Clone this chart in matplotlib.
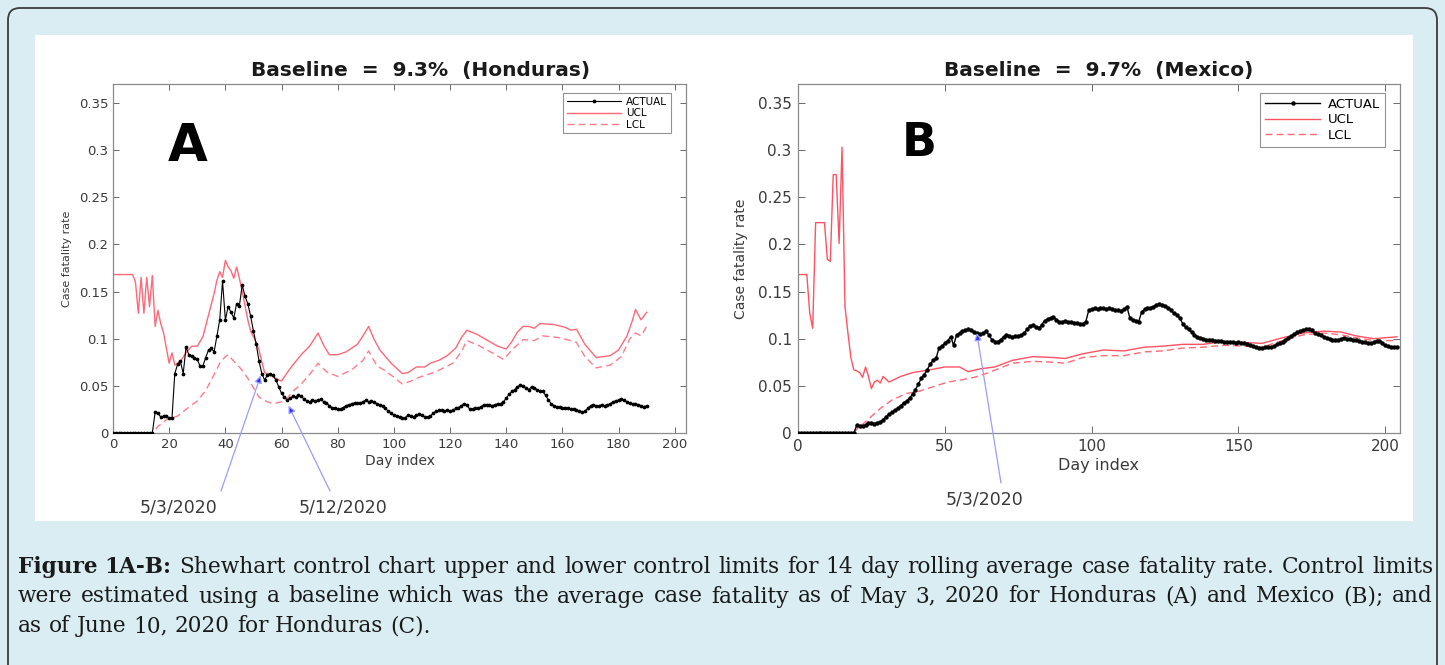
import matplotlib.pyplot as plt
from matplotlib.patches import FancyBboxPatch, Rectangle
from matplotlib.ticker import FuncFormatter, MultipleLocator

# ---- data ----
# Honduras (A): 14 day rolling case fatality rate, one value per day
actual_a = [
    0, 0, 0, 0, 0, 0, 0, 0, 0, 0, 0, 0, 0, 0, 0,
    0.022, 0.021, 0.017, 0.018, 0.018, 0.016, 0.016,
    0.063, 0.073, 0.076, 0.063, 0.091, 0.083, 0.082, 0.080, 0.078, 0.071,
    0.071, 0.080, 0.088, 0.090, 0.086, 0.103, 0.120, 0.161, 0.120, 0.134,
    0.128, 0.122, 0.137, 0.135, 0.157, 0.145, 0.137, 0.124, 0.108, 0.094,
    0.076, 0.063, 0.056, 0.062, 0.063, 0.061, 0.056, 0.049, 0.042, 0.038,
    0.035, 0.037, 0.039, 0.038, 0.040, 0.039, 0.036, 0.034, 0.033, 0.035,
    0.034, 0.035, 0.036, 0.033, 0.032, 0.029, 0.027, 0.026, 0.025, 0.025,
    0.027, 0.029, 0.030, 0.031, 0.032, 0.032, 0.032, 0.033, 0.035, 0.033,
    0.034, 0.033, 0.031, 0.030, 0.029, 0.026, 0.023, 0.021, 0.019, 0.018,
    0.017, 0.016, 0.016, 0.019, 0.018, 0.017, 0.019, 0.020, 0.019, 0.017,
    0.017, 0.018, 0.021, 0.023, 0.024, 0.024, 0.023, 0.024, 0.023, 0.024,
    0.026, 0.027, 0.029, 0.031, 0.030, 0.025, 0.025, 0.026, 0.026, 0.028,
    0.030, 0.030, 0.030, 0.029, 0.030, 0.031, 0.031, 0.033, 0.037, 0.041,
    0.044, 0.046, 0.049, 0.051, 0.050, 0.048, 0.046, 0.049, 0.048, 0.046,
    0.045, 0.044, 0.040, 0.035, 0.031, 0.029, 0.028, 0.028, 0.027, 0.027,
    0.026, 0.025, 0.025, 0.024, 0.023, 0.022, 0.023, 0.026, 0.029, 0.030,
    0.029, 0.029, 0.030, 0.029, 0.030, 0.031, 0.033, 0.034, 0.035, 0.036,
    0.035, 0.033, 0.032, 0.031, 0.031, 0.030, 0.029, 0.028, 0.029,
]
ucl_a_days = [0, 7, 8, 9, 10, 11, 12, 13, 14, 15, 16, 17, 18, 20, 21, 22, 24, 26,
              28, 30, 32, 34, 36, 37, 38, 39, 40, 41, 42, 43, 44, 45, 46, 47, 48,
              49, 51, 52, 53, 54, 56, 58, 60, 62, 64, 67, 70, 73, 75, 77, 80, 83,
              87, 89, 91, 93, 95, 99, 103, 105, 108, 111, 113, 116, 119, 122, 124,
              126, 130, 134, 137, 140, 142, 144, 146, 148, 150, 152, 157, 161, 163,
              165, 168, 172, 177, 180, 183, 185, 186, 188, 190]
ucl_a = [0.168, 0.168, 0.160, 0.127, 0.165, 0.127, 0.165, 0.134, 0.167, 0.113,
         0.130, 0.116, 0.106, 0.074, 0.085, 0.072, 0.076, 0.085, 0.092, 0.092,
         0.102, 0.125, 0.148, 0.162, 0.171, 0.165, 0.183, 0.176, 0.172, 0.164,
         0.176, 0.164, 0.150, 0.135, 0.120, 0.108, 0.096, 0.088, 0.075, 0.064,
         0.061, 0.058, 0.055, 0.064, 0.072, 0.083, 0.092, 0.106, 0.093, 0.083,
         0.083, 0.086, 0.094, 0.103, 0.113, 0.099, 0.088, 0.074, 0.063, 0.064,
         0.070, 0.070, 0.074, 0.077, 0.082, 0.090, 0.101, 0.109, 0.104, 0.097,
         0.092, 0.089, 0.097, 0.107, 0.113, 0.113, 0.111, 0.116, 0.115, 0.112,
         0.109, 0.110, 0.094, 0.080, 0.082, 0.088, 0.103, 0.120, 0.131, 0.120,
         0.128]
lcl_a_days = [0, 14, 15, 16, 19, 23, 26, 30, 33, 36, 38, 40, 41, 43, 45, 48, 50, 52,
              55, 57, 60, 62, 64, 67, 70, 73, 76, 80, 85, 89, 91, 94, 97, 100, 103,
              106, 109, 115, 121, 124, 126, 130, 135, 139, 142, 146, 150, 153, 159,
              163, 165, 168, 172, 177, 181, 184, 186, 188, 190]
lcl_a = [0, 0, 0.003, 0.007, 0.014, 0.018, 0.025, 0.034, 0.045, 0.062, 0.074,
         0.081, 0.083, 0.076, 0.070, 0.058, 0.048, 0.038, 0.033, 0.031, 0.033,
         0.037, 0.044, 0.052, 0.062, 0.074, 0.065, 0.060, 0.067, 0.077, 0.087,
         0.071, 0.066, 0.059, 0.052, 0.055, 0.059, 0.065, 0.074, 0.086, 0.098,
         0.093, 0.085, 0.078, 0.088, 0.099, 0.098, 0.103, 0.101, 0.098, 0.096,
         0.081, 0.069, 0.072, 0.081, 0.100, 0.106, 0.103, 0.113]

# Mexico (B)
actual_b = [
    0, 0, 0, 0, 0, 0, 0, 0, 0, 0, 0, 0, 0, 0, 0, 0, 0, 0, 0, 0,
    0.008, 0.007, 0.007, 0.009, 0.011, 0.011, 0.010, 0.011, 0.012, 0.014,
    0.017, 0.020, 0.022, 0.024, 0.026, 0.029, 0.032, 0.034, 0.037, 0.041,
    0.046, 0.052, 0.058, 0.062, 0.067, 0.073, 0.077, 0.079, 0.090, 0.092,
    0.095, 0.098, 0.102, 0.093, 0.104, 0.106, 0.108, 0.109, 0.110, 0.109,
    0.107, 0.106, 0.105, 0.106, 0.108, 0.104, 0.099, 0.097, 0.097, 0.099,
    0.102, 0.104, 0.103, 0.102, 0.103, 0.103, 0.104, 0.106, 0.110, 0.113,
    0.115, 0.112, 0.111, 0.115, 0.119, 0.121, 0.122, 0.123, 0.120, 0.118,
    0.118, 0.119, 0.118, 0.118, 0.117, 0.117, 0.116, 0.116, 0.118, 0.130,
    0.131, 0.132, 0.131, 0.132, 0.132, 0.131, 0.132, 0.131, 0.130, 0.130,
    0.129, 0.131, 0.134, 0.122, 0.120, 0.119, 0.118, 0.128, 0.131, 0.132,
    0.133, 0.134, 0.136, 0.137, 0.136, 0.135, 0.133, 0.130, 0.127, 0.125,
    0.122, 0.116, 0.112, 0.110, 0.107, 0.104, 0.102, 0.101, 0.100, 0.099,
    0.099, 0.099, 0.098, 0.098, 0.098, 0.097, 0.096, 0.096, 0.096, 0.095,
    0.096, 0.095, 0.095, 0.094, 0.093, 0.092, 0.091, 0.090, 0.090, 0.091,
    0.091, 0.091, 0.092, 0.094, 0.095, 0.097, 0.099, 0.101, 0.103, 0.105,
    0.107, 0.108, 0.109, 0.110, 0.110, 0.109, 0.106, 0.105, 0.104, 0.102,
    0.101, 0.100, 0.099, 0.099, 0.099, 0.100, 0.101, 0.100, 0.100, 0.099,
    0.099, 0.098, 0.097, 0.096, 0.095, 0.095, 0.096, 0.098, 0.098, 0.095,
    0.093, 0.092, 0.091, 0.091, 0.091,
]
ucl_b_days = [0, 3, 4, 5, 6, 9, 10, 11, 12, 13, 14, 15, 16, 17, 18, 19, 20, 21, 22,
              23, 24, 25, 26, 27, 28, 29, 31, 35, 39, 45, 50, 55, 58, 62, 67, 73,
              80, 87, 91, 97, 104, 111, 118, 124, 131, 138, 145, 152, 158, 165,
              172, 179, 185, 190, 196, 204]
ucl_b = [0.168, 0.168, 0.127, 0.111, 0.223, 0.223, 0.184, 0.182, 0.274, 0.274,
         0.201, 0.303, 0.134, 0.106, 0.080, 0.067, 0.066, 0.064, 0.059, 0.070,
         0.060, 0.047, 0.054, 0.056, 0.053, 0.060, 0.054, 0.060, 0.064, 0.067,
         0.070, 0.070, 0.065, 0.068, 0.070, 0.077, 0.081, 0.080, 0.079, 0.084,
         0.088, 0.087, 0.091, 0.092, 0.094, 0.094, 0.097, 0.096, 0.095, 0.101,
         0.106, 0.108, 0.107, 0.103, 0.100, 0.102]
lcl_b_days = [0, 19, 20, 23, 28, 32, 37, 41, 46, 51, 55, 60, 64, 69, 73, 80, 87, 91,
              97, 104, 111, 118, 124, 131, 138, 145, 152, 158, 165, 172, 179, 185,
              190, 196, 204]
lcl_b = [0, 0, 0.004, 0.012, 0.026, 0.035, 0.042, 0.044, 0.049, 0.054, 0.056,
         0.059, 0.063, 0.069, 0.074, 0.076, 0.075, 0.074, 0.080, 0.082, 0.082,
         0.086, 0.087, 0.090, 0.091, 0.093, 0.092, 0.091, 0.098, 0.104, 0.106,
         0.104, 0.101, 0.098, 0.098]

caption_lines = [
    [("Figure", "bold"), ("1A-B:", "bold")] + [(w, "normal") for w in
     "Shewhart control chart upper and lower control limits for 14 day rolling average case fatality rate. Control limits".split()],
    [(w, "normal") for w in
     "were estimated using a baseline which was the average case fatality as of May 3, 2020 for Honduras (A) and Mexico (B); and".split()],
    [(w, "normal") for w in "as of June 10, 2020 for Honduras (C).".split()],
]

# ---- figure ----
W, H = 1445, 665
BG = '#d9edf3'
fig = plt.figure(figsize=(W / 100, H / 100), dpi=100)
fig.patch.set_facecolor(BG)

# pixel-space background axes
bg = fig.add_axes([0, 0, 1, 1], zorder=-5)
bg.set_xlim(0, W)
bg.set_ylim(H, 0)
bg.axis('off')
bg.add_patch(FancyBboxPatch((8, 8), W - 16, H + 20, boxstyle='round,pad=0,rounding_size=12',
                            fc=BG, ec='#3c3c3c', lw=1.3))
bg.add_patch(Rectangle((35, 35), 1378, 486, fc='white', ec='none'))

FONT = 'DejaVu Sans'
TXT = '#3a3a3a'


def style_axes(ax, xstep, tsize, tlen, tpad):
    ax.set_facecolor('none')
    for s in ax.spines.values():
        s.set_color('#8a8a8a')
        s.set_linewidth(0.9)
    ax.tick_params(direction='in', top=True, right=True, length=tlen, width=0.7,
                   colors='#6a6a6a', labelcolor=TXT, labelsize=tsize, pad=tpad)
    ax.xaxis.set_major_locator(MultipleLocator(xstep))
    ax.yaxis.set_major_locator(MultipleLocator(0.05))
    ax.yaxis.set_major_formatter(FuncFormatter(lambda v, p: f'{v:g}'))
    ax.set_ylim(0, 0.37)
    for lab in ax.get_xticklabels() + ax.get_yticklabels():
        lab.set_family(FONT)


a_l, a_r = 113, 686
b_l, b_r = 798, 1400
top, bot = 84, 433
ax_a = fig.add_axes([a_l / W, 1 - bot / H, (a_r - a_l) / W, (bot - top) / H])
ax_b = fig.add_axes([b_l / W, 1 - bot / H, (b_r - b_l) / W, (bot - top) / H])

# panel A
ax_a.plot(ucl_a_days, ucl_a, color='#ff6878', lw=1.0, label='UCL', zorder=2)
ax_a.plot(lcl_a_days, lcl_a, color='#ff7d8b', lw=1.0, ls=(0, (5, 3)), label='LCL', zorder=2)
ax_a.plot(range(len(actual_a)), actual_a, color='black', lw=0.8, marker='.', ms=3.4,
          label='ACTUAL', zorder=3)
ax_a.set_xlim(0, 204)
style_axes(ax_a, 20, 9.5, 4, 3.5)
ax_a.set_title('Baseline  =  9.3%  (Honduras)', fontsize=14.5, fontweight='bold',
               family=FONT, color='#1a1a1a', pad=6, x=0.537)
ax_a.set_xlabel('Day index', fontsize=10, family=FONT, color=TXT, labelpad=2)
ax_a.set_ylabel('Case fatality rate', fontsize=8, family=FONT, color=TXT, labelpad=5)
ax_a.text(26.5, 0.303, 'A', fontsize=37, fontweight='bold', family=FONT,
          ha='center', va='center')
h, l = ax_a.get_legend_handles_labels()
leg = ax_a.legend([h[2], h[0], h[1]], [l[2], l[0], l[1]], loc='upper right',
                  bbox_to_anchor=(1 - 15 / (a_r - a_l), 1 - 9 / (bot - top)),
                  borderaxespad=0, frameon=True, fancybox=False, edgecolor='#777777',
                  handlelength=5.2, labelspacing=0.15, borderpad=0.35,
                  handletextpad=0.5, prop={'family': FONT, 'size': 7.5})
leg.get_frame().set_linewidth(0.8)

# panel B
ax_b.plot(ucl_b_days, ucl_b, color='#ff5262', lw=1.0, label='UCL', zorder=2)
ax_b.plot(lcl_b_days, lcl_b, color='#ff6a78', lw=1.0, ls=(0, (5, 3)), label='LCL', zorder=2)
ax_b.plot(range(len(actual_b)), actual_b, color='black', lw=1.0, marker='.', ms=4.4,
          label='ACTUAL', zorder=3)
ax_b.set_xlim(0, 205)
style_axes(ax_b, 50, 11, 5, 4.5)
ax_b.set_title('Baseline  =  9.7%  (Mexico)', fontsize=14.5, fontweight='bold',
               family=FONT, color='#1a1a1a', pad=6)
ax_b.set_xlabel('Day index', fontsize=11.5, family=FONT, color=TXT, labelpad=3)
ax_b.set_ylabel('Case fatality rate', fontsize=10, family=FONT, color=TXT, labelpad=7)
ax_b.text(41.3, 0.307, 'B', fontsize=33, fontweight='bold', family=FONT,
          ha='center', va='center')
h, l = ax_b.get_legend_handles_labels()
leg = ax_b.legend([h[2], h[0], h[1]], [l[2], l[0], l[1]], loc='upper right',
                  bbox_to_anchor=(1 - 15 / (b_r - b_l), 1 - 9 / (bot - top)),
                  borderaxespad=0, frameon=True, fancybox=False, edgecolor='#777777',
                  handlelength=4.2, labelspacing=0.2, borderpad=0.35,
                  handletextpad=0.6, prop={'family': FONT, 'size': 9.5})
leg.get_frame().set_linewidth(0.8)

# date annotations (tail positions in figure pixels)
arrow = dict(arrowstyle='-|>', ec='#9c9cff', fc='#2a2aff', lw=0.9, mutation_scale=11,
             shrinkA=0, shrinkB=0)
for ax, txt, tx, ty, tail, head in [
        (ax_a, '5/3/2020', 179, 507, (221, 491), (52.6, 0.061)),
        (ax_a, '5/12/2020', 343, 507, (330, 491), (62.5, 0.029)),
        (ax_b, '5/3/2020', 985, 499, (1001, 483), (60.9, 0.106))]:
    bg.text(tx, ty, txt, fontsize=12.5, family=FONT, color=TXT, ha='center', va='center')
    ax.annotate('', xy=head, xycoords='data', xytext=tail, textcoords=bg.transData,
                arrowprops=arrow, annotation_clip=False)

# caption, justified like the source page
CAP_FONT = 'DejaVu Serif'
renderer = fig.canvas.get_renderer()


def word_widths(words, size):
    out = []
    for w, wt in words:
        t = bg.text(0, 0, w, fontsize=size, fontweight=wt, family=CAP_FONT)
        out.append(t.get_window_extent(renderer=renderer).width)
        t.remove()
    return out


x0, x1 = 18, 1433
ref = 10
ww = word_widths(caption_lines[0], ref)
natural = sum(ww) + 0.318 * ref * 100 / 72 * (len(ww) - 1)
cap_size = ref * (x1 - x0) / natural
space = 0.318 * cap_size * 100 / 72
for i, (words, y) in enumerate(zip(caption_lines, [567, 596.5, 626])):
    ww = word_widths(words, cap_size)
    gap = space
    if i < len(caption_lines) - 1:
        gap = (x1 - x0 - sum(ww)) / (len(ww) - 1)
    x = x0
    for (w, wt), wd in zip(words, ww):
        bg.text(x, y, w, fontsize=cap_size, fontweight=wt, family=CAP_FONT,
                color='#1a1a1a', va='center', ha='left')
        x += wd + gap

fig.savefig('out.png', dpi=100, facecolor=fig.get_facecolor())
